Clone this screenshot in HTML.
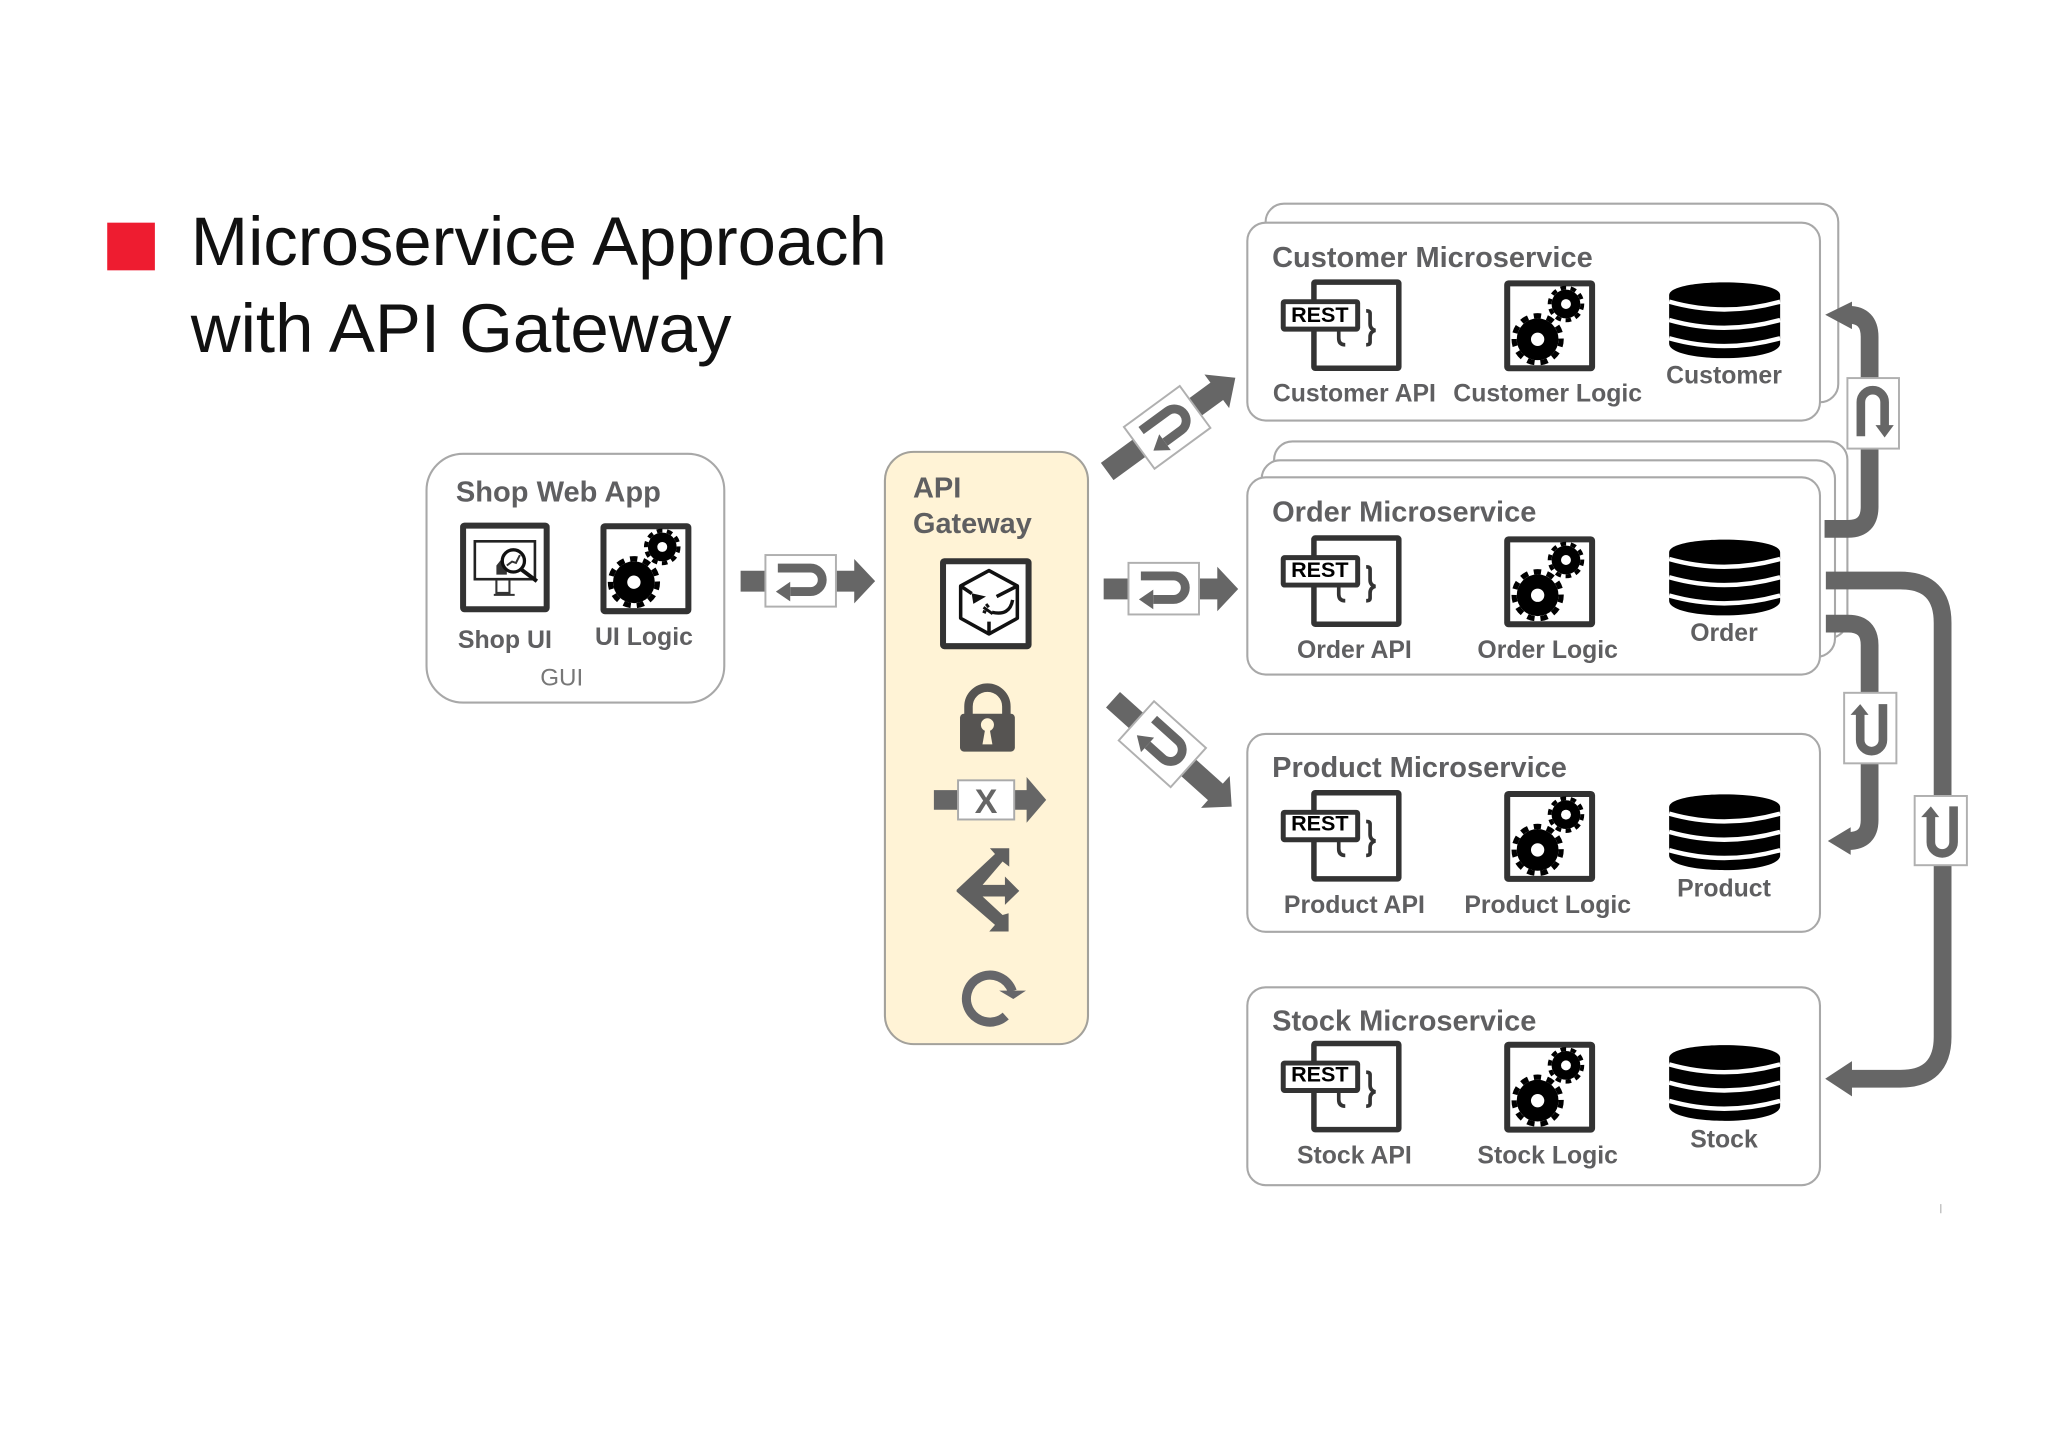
<!DOCTYPE html>
<html><head><meta charset="utf-8"><style>
html,body{margin:0;padding:0;background:#fff}
svg{display:block}
text{font-family:"Liberation Sans",Arial,sans-serif}
.l{font-weight:700;font-size:19px;fill:#5f5f61;text-anchor:middle}
.t{font-weight:700;font-size:22.2px;fill:#5f5f61}
.r{font-weight:700;font-size:16.5px;fill:#000;text-anchor:middle}
.b{font-weight:700;font-size:26px}
</style></head><body>
<svg width="2048" height="1447" viewBox="0 0 1568 1108" xmlns="http://www.w3.org/2000/svg">
<defs>
<g id="u"><path d="M-17.5 -10H7.500a9 9 0 0 1 0 18H-8" fill="none" stroke="#666" stroke-width="6.800"/><path d="M-19 8L-8 0.500V15.500Z" fill="#666"/></g>
<g id="gears">
<circle cx="25.300" cy="44.800" r="16" fill="#000"/><circle cx="25.300" cy="44.800" r="18" fill="none" stroke="#000" stroke-width="4" pathLength="110" stroke-dasharray="5.500 4.500"/><circle cx="25.300" cy="44.800" r="5.100" fill="#fff"/>
<circle cx="47" cy="17.800" r="11" fill="#000"/><circle cx="47" cy="17.800" r="12.500" fill="none" stroke="#000" stroke-width="3" pathLength="100" stroke-dasharray="5.500 4.500"/><circle cx="47" cy="17.800" r="3.800" fill="#fff"/>
</g>
<g id="logic"><rect x="2" y="2" width="65" height="65" rx="1" fill="#fff" stroke="#333" stroke-width="4.600"/><use href="#gears"/></g>
<g id="db">
<path d="M0 10C0 -3 85 -3 85 10V47C85 62 0 62 0 47Z" fill="#000"/>
<path d="M0 15Q42 27 85 15M0 29Q42 41 85 29M0 43Q42 55 85 43" fill="none" stroke="#fff" stroke-width="3.400"/>
</g>
<g id="rest">
<rect x="25" y="2" width="65" height="66" rx="1" fill="#fff" stroke="#333" stroke-width="4.200"/>
<path d="M65 24q3 0 3 2v8q0 4 4 5 -4 1 -4 5v4q0 2 -3 2" fill="none" stroke="#333" stroke-width="2.800"/>
<path d="M44 36v9q0 5 5 5" fill="none" stroke="#333" stroke-width="2.800"/>
<rect x="1.500" y="17" width="57" height="21" rx="1" fill="#fff" stroke="#333" stroke-width="3.800"/>
</g>
</defs>
<rect width="1568" height="1108" fill="#fff"/>

<!-- title -->
<rect x="82" y="170.500" width="36.500" height="36.500" fill="#ee1c30"/>
<text x="146" y="203" font-size="52.400" fill="#111" textLength="533" lengthAdjust="spacingAndGlyphs">Microservice Approach</text>
<text x="146" y="269.500" font-size="52.400" fill="#111" textLength="414" lengthAdjust="spacingAndGlyphs">with API Gateway</text>

<!-- shop box -->
<rect x="326.500" y="347.500" width="228" height="190.500" rx="28" fill="#fff" stroke="#a8a8a8" stroke-width="1.600"/>
<text class="t" x="349" y="384" textLength="157" lengthAdjust="spacingAndGlyphs">Shop Web App</text>
<rect x="354.500" y="402.500" width="64" height="64" rx="1" fill="#fff" stroke="#333" stroke-width="4.600"/>
<rect x="363.500" y="414.500" width="46" height="29" fill="none" stroke="#222" stroke-width="2"/>
<path d="M380 444V454H390V444M378 455.500H394" fill="none" stroke="#333" stroke-width="1.600"/>
<path d="M380 440V433L384 428 388 433V440Z" fill="#333"/>
<circle cx="393" cy="429.500" r="8.500" fill="#fff" stroke="#111" stroke-width="2.500"/>
<path d="M399 436L411 445" stroke="#111" stroke-width="3"/>
<path d="M388 433L392 430 395 431 398 425" fill="none" stroke="#333" stroke-width="1.500"/>
<use href="#logic" x="460" y="401"/>
<text class="l" x="386.500" y="496" textLength="72" lengthAdjust="spacingAndGlyphs">Shop UI</text>
<text class="l" x="493" y="494" textLength="75" lengthAdjust="spacingAndGlyphs">UI Logic</text>
<text x="430" y="525" font-size="18.500" fill="#777" text-anchor="middle">GUI</text>

<!-- gateway -->
<rect x="677.500" y="346" width="155.500" height="453.500" rx="22" fill="#fff3d6" stroke="#a3a19b" stroke-width="1.600"/>
<text class="t" x="699" y="381">API</text>
<text class="t" x="699" y="408" textLength="91" lengthAdjust="spacingAndGlyphs">Gateway</text>
<rect x="722" y="429.800" width="65.500" height="65" rx="1" fill="#fff" stroke="#333" stroke-width="4.600"/>
<path d="M757.200 436.900L778.900 448.700V473.400L757.200 485.400 735.500 473.400V448.700Z" fill="none" stroke="#111" stroke-width="2.700" stroke-linejoin="round"/>
<path d="M735.500 448.700L744 454.500M778.900 448.700L763 456.800M757.200 485.400V476" fill="none" stroke="#111" stroke-width="2.700"/>
<path d="M743.900 454.300L754.900 456.800 745.200 462.400Z" fill="#111"/>
<path d="M775.300 459.400Q773 472 759.500 468.800" fill="none" stroke="#111" stroke-width="2.600"/>
<path d="M753 465L760 470M755 462.500L757 465M752.500 468L755 469" fill="none" stroke="#111" stroke-width="2.200"/>
<!-- lock -->
<path d="M741.500 552V541a14.500 14.500 0 0 1 29 0V552" fill="none" stroke="#565452" stroke-width="6.500"/>
<rect x="735" y="546.500" width="42" height="29" rx="3" fill="#565452"/>
<circle cx="756" cy="555" r="5" fill="#fff3d6"/><path d="M754.500 557H757.500L759.800 570H752.200Z" fill="#fff3d6"/>
<!-- x flow -->
<path d="M715 605H733V620H715ZM777 605H786V595L801 612.500 786 630V620H777Z" fill="#666"/>
<rect x="733.500" y="597.500" width="43" height="30" fill="#fff" stroke="#aaa" stroke-width="1.500"/>
<text class="b" x="755" y="622.500" text-anchor="middle" fill="#666">X</text>
<!-- router -->
<path d="M732.400 681.400L761.800 653.900 757.900 649.500H772.700V663.600L767.600 659.700 752.300 677.600H769.400V671.200L780.400 682.200 769.400 692.900V686.500H752.300L767.600 700.600 772.200 699.300V713.300H757.400L761.800 708.200 732.400 682.700Z" fill="#606060"/>
<!-- retry -->
<path d="M770 778A18 18 0 1 1 775 759" fill="none" stroke="#66666a" stroke-width="7"/>
<path d="M765 758.500H785.500L775.800 765Z" fill="#66666a"/>

<!-- customer backs -->
<rect x="969" y="156" width="438.500" height="152" rx="14" fill="#fff" stroke="#a8a8a8" stroke-width="1.600"/>
<rect x="955" y="170.500" width="438.500" height="151.500" rx="14" fill="#fff" stroke="#a8a8a8" stroke-width="1.600"/>
<!-- order backs -->
<rect x="975.500" y="338" width="439" height="150.500" rx="14" fill="#fff" stroke="#a8a8a8" stroke-width="1.600"/>
<rect x="966" y="352.500" width="439" height="150.500" rx="14" fill="#fff" stroke="#a8a8a8" stroke-width="1.600"/>
<rect x="955" y="365.500" width="438.500" height="151" rx="14" fill="#fff" stroke="#a8a8a8" stroke-width="1.600"/>
<rect x="955" y="562" width="438.500" height="151.500" rx="14" fill="#fff" stroke="#a8a8a8" stroke-width="1.600"/>
<rect x="955" y="756" width="438.500" height="151.500" rx="14" fill="#fff" stroke="#a8a8a8" stroke-width="1.600"/>

<!-- customer -->
<text class="t" x="974" y="204.500">Customer Microservice</text>
<use href="#rest" x="981" y="214"/><text class="r" x="1010.500" y="246.500">REST</text>
<use href="#logic" x="1152" y="215"/>
<use href="#db" x="1278" y="216"/>
<text class="l" x="1037" y="307.500">Customer API</text>
<text class="l" x="1185" y="307.500">Customer Logic</text>
<text class="l" x="1320" y="293.500">Customer</text>
<!-- order -->
<text class="t" x="974" y="399.500">Order Microservice</text>
<use href="#rest" x="981" y="410"/><text class="r" x="1010.500" y="442">REST</text>
<use href="#logic" x="1152" y="411"/>
<use href="#db" x="1278" y="413"/>
<text class="l" x="1037" y="504">Order API</text>
<text class="l" x="1185" y="504">Order Logic</text>
<text class="l" x="1320" y="491">Order</text>
<!-- product -->
<text class="t" x="974" y="595">Product Microservice</text>
<use href="#rest" x="981" y="605"/><text class="r" x="1010.500" y="636">REST</text>
<use href="#logic" x="1152" y="606"/>
<use href="#db" x="1278" y="608"/>
<text class="l" x="1037" y="699">Product API</text>
<text class="l" x="1185" y="699">Product Logic</text>
<text class="l" x="1320" y="686.500">Product</text>
<!-- stock -->
<text class="t" x="974" y="789">Stock Microservice</text>
<use href="#rest" x="981" y="797"/><text class="r" x="1010.500" y="828">REST</text>
<use href="#logic" x="1152" y="798"/>
<use href="#db" x="1278" y="800"/>
<text class="l" x="1037" y="891">Stock API</text>
<text class="l" x="1185" y="891">Stock Logic</text>
<text class="l" x="1320" y="878.500">Stock</text>

<!-- flows -->
<g transform="translate(613 445)">
<path d="M-46 -8H-27V8H-46ZM26 -8H41V-17L57 0 41 17V8H26Z" fill="#666"/>
<rect x="-27" y="-20" width="54" height="39.500" fill="#fff" stroke="#b0b0b0" stroke-width="1.500"/><use href="#u"/></g>
<g transform="translate(891 451)">
<path d="M-46 -8H-27V8H-46ZM26 -8H41V-17L57 0 41 17V8H26Z" fill="#666"/>
<rect x="-27" y="-20" width="54" height="39.500" fill="#fff" stroke="#b0b0b0" stroke-width="1.500"/><use href="#u"/></g>
<g transform="translate(893.700 327.400) rotate(-36.200)">
<path d="M-57 -8.200H-26V8.200H-57ZM26 -8.200H47V-16L64.600 0 47 16V8.200H26Z" fill="#666"/>
<rect x="-26.500" y="-20" width="53" height="39.700" fill="#fff" stroke="#b0b0b0" stroke-width="1.500"/><use href="#u"/></g>
<g transform="translate(889.900 569.800) rotate(42)">
<path d="M-50.800 -8H-26V8H-50.800ZM26 -8.500H54.700V-16.400L71.500 0 54.700 16.400V8.500H26Z" fill="#666"/>
<rect x="-26.700" y="-20.200" width="53.500" height="40.400" fill="#fff" stroke="#b0b0b0" stroke-width="1.500"/><use href="#u"/></g>

<!-- side connectors -->
<g fill="none" stroke="#666" stroke-width="13.600">
<path d="M1397 405H1415Q1431.500 405 1431.500 388V258Q1431.500 241 1415 241"/>
<path d="M1398 477.500H1415Q1431.500 477.500 1431.500 494V628Q1431.500 644 1415 644"/>
<path d="M1398 444.500H1455Q1487.400 444.500 1487.400 477V794Q1487.400 826 1455 826H1412"/>
</g>
<path d="M1397.500 241L1418 231V252ZM1399.500 644L1417 633.400V654.600ZM1397.500 826L1418 812.500V839.500Z" fill="#666"/>

<rect x="1414.500" y="289.500" width="39.500" height="54" fill="#fff" stroke="#b0b0b0" stroke-width="1.500"/>
<path d="M1424.800 334V307.900a9.100 9.100 0 0 1 18.200 0V326" fill="none" stroke="#666" stroke-width="6.600"/>
<path d="M1436 325.500H1450L1443 335Z" fill="#666"/>

<rect x="1412" y="530.500" width="40" height="54" fill="#fff" stroke="#b0b0b0" stroke-width="1.500"/>
<path d="M1424.300 547V566.500a8.700 8.700 0 0 0 17.400 0V539.200" fill="none" stroke="#666" stroke-width="6.600"/>
<path d="M1416.900 547.400L1424.300 539.200 1430.700 547.400Z" fill="#666"/>

<rect x="1466" y="609.500" width="40" height="53" fill="#fff" stroke="#b0b0b0" stroke-width="1.500"/>
<path d="M1478.400 625.300V644.800a8.700 8.700 0 0 0 17.400 0V617.500" fill="none" stroke="#666" stroke-width="6.600"/>
<path d="M1471 625.700L1478.400 617.500 1484.800 625.700Z" fill="#666"/>

<rect x="1485.500" y="922" width="1" height="7" fill="#bbb"/>
</svg>
</body></html>
